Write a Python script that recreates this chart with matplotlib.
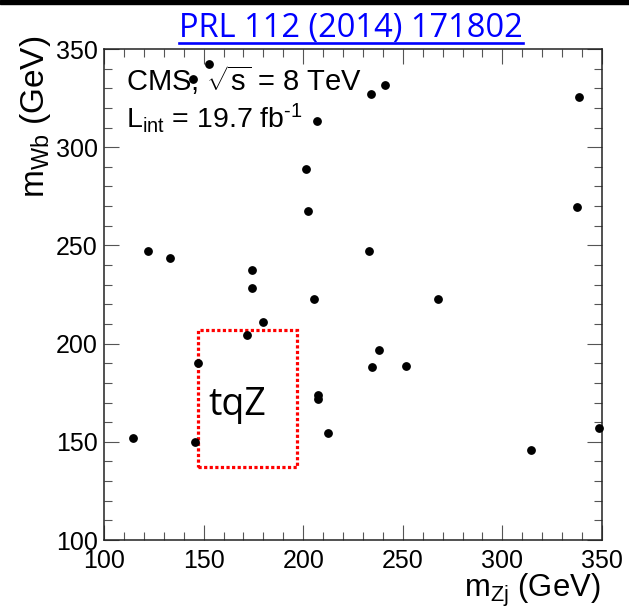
import numpy as np
import matplotlib
matplotlib.use('Agg')
import matplotlib.pyplot as plt
from matplotlib.patches import Rectangle
from matplotlib.lines import Line2D
from matplotlib.ticker import MultipleLocator

# ROOT-ish look: Helvetica metrics -> Liberation Sans
plt.rcParams['font.family'] = 'Liberation Sans'
plt.rcParams['mathtext.fontset'] = 'custom'
plt.rcParams['mathtext.rm'] = 'Liberation Sans'
plt.rcParams['mathtext.it'] = 'Liberation Sans:italic'
plt.rcParams['mathtext.bf'] = 'Liberation Sans:bold'

# ================= data =================
mzj = [114.4, 122.0, 133.1, 144.8, 152.9, 145.7, 147.0, 171.6, 174.1, 174.5,
       180.0, 201.4, 202.6, 205.2, 207.1, 207.3, 207.6, 212.3, 233.2, 234.0,
       234.4, 238.1, 241.1, 251.4, 267.8, 314.4, 337.3, 338.5, 348.6]
mwb = [151.8, 247.1, 243.4, 334.6, 342.2, 150.1, 190.3, 204.4, 228.1, 237.5,
       211.2, 289.1, 267.7, 222.5, 313.3, 173.8, 171.9, 154.6, 247.0, 326.9,
       188.1, 196.6, 331.7, 188.6, 222.7, 145.8, 269.4, 325.7, 156.9]

# signal window drawn as red dotted box
box_x = [147.0, 197.0]
box_y = [137.3, 206.9]

xlim = [100, 350]
ylim = [100, 350]

title = 'PRL 112 (2014) 171802'
cms_line = r'CMS, $\sqrt{\mathrm{s}}$ = 8 TeV'
lumi_line = r'L$_{\mathrm{int}}$ = 19.7 fb$^{\text{-}1}$'

# ================= figure =================
fig = plt.figure(figsize=(6.29, 6.09), dpi=100)
ax = fig.add_axes([0.1653, 0.1133, 0.7918, 0.8062])

ax.plot(mzj, mwb, 'o', color='black', markersize=5.3, clip_on=False, zorder=5)

ax.add_patch(Rectangle((box_x[0], box_y[0]), box_x[1] - box_x[0], box_y[1] - box_y[0],
                       fill=False, edgecolor='red', linewidth=2.3,
                       linestyle=(0, (1, 0.75)), zorder=4))
ax.text(152.2, 163.6, 'tqZ', fontfamily='Open Sans', fontsize=27, va='baseline')

ax.set_xlim(xlim)
ax.set_ylim(ylim)
ax.xaxis.set_major_locator(MultipleLocator(50))
ax.xaxis.set_minor_locator(MultipleLocator(10))
ax.yaxis.set_major_locator(MultipleLocator(50))
ax.yaxis.set_minor_locator(MultipleLocator(10))

ax.tick_params(which='both', direction='in', top=True, right=True,
               color='#555555', width=0.8, labelsize=18)
ax.tick_params(which='major', length=10.8)
ax.tick_params(which='minor', length=5.5)
ax.tick_params(axis='x', pad=6.5)
ax.tick_params(axis='y', pad=4.5)
for s in ax.spines.values():
    s.set_linewidth(1.1)
    s.set_color('#222222')

ax.set_xlabel(r'm$_{\mathrm{Zj}}$ (GeV)', fontsize=22.3, loc='right')
ax.xaxis.set_label_coords(0.996, -0.064)
ax.set_ylabel(r'm$_{\mathrm{Wb}}$ (GeV)', fontsize=24, loc='top')
ax.yaxis.set_label_coords(-0.102, 1.028)

ax.text(0.044, 0.915, cms_line, transform=ax.transAxes, fontsize=21, va='baseline')
ax.text(0.044, 0.8405, lumi_line, transform=ax.transAxes, fontsize=20.5, va='baseline')

# black strip along the top edge of the slide
fig.patches.append(Rectangle((0, 1 - 4 / 609), 1, 4 / 609, transform=fig.transFigure,
                             color='black', zorder=10))

# blue underlined reference
t = fig.text(351 / 629, 1 - 36.7 / 609, title, fontfamily='Open Sans', fontsize=23.5,
             color='#0000ff', ha='center', va='baseline')
fig.canvas.draw()
bb = t.get_window_extent()
inv = fig.transFigure.inverted()
x0, _ = inv.transform((bb.x0, 0))
x1, _ = inv.transform((bb.x1, 0))
fig.lines.append(Line2D([x0, x1], [1 - 43 / 609] * 2, transform=fig.transFigure,
                        color='#0000ff', linewidth=1.9))

fig.savefig('out.png', dpi=100)
